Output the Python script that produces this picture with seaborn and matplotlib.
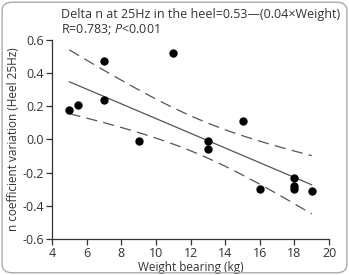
import matplotlib
matplotlib.use("Agg")
import matplotlib.pyplot as plt
from matplotlib.patches import FancyBboxPatch
import numpy as np
import pandas as pd
import seaborn as sns

# data
weight = [5, 5.5, 7, 7, 9, 11, 13, 13, 15, 16, 18, 18, 18, 19]
delta_n = [0.18, 0.21, 0.47, 0.24, -0.01, 0.52, -0.01, -0.06, 0.11, -0.30, -0.23, -0.28, -0.30, -0.31]
x_ticks = [4, 6, 8, 10, 12, 14, 16, 18, 20]
y_ticks = [-0.6, -0.4, -0.2, 0.0, 0.2, 0.4, 0.6]
T_CRIT = 2.179  # t(0.975, df=12)

df = pd.DataFrame({"weight": weight, "delta_n": delta_n})

sns.set_theme(style="ticks")
plt.rcParams["font.family"] = ["Open Sans", "DejaVu Sans"]
plt.rcParams["axes.unicode_minus"] = False
plt.rcParams["mathtext.fontset"] = "custom"
plt.rcParams["mathtext.it"] = "Open Sans:italic"
plt.rcParams["mathtext.rm"] = "Open Sans"

fig = plt.figure(figsize=(3.49, 2.75), dpi=100)
ax = fig.add_axes([0.149, 0.131, 0.794, 0.724])

# regression line + 95% confidence band of the mean
x = df["weight"].to_numpy(float)
y = df["delta_n"].to_numpy(float)
slope, intercept = np.polyfit(x, y, 1)
n = len(x)
resid = y - (intercept + slope * x)
s = np.sqrt(np.sum(resid ** 2) / (n - 2))
grid = np.linspace(x.min(), x.max(), 100)
fit = intercept + slope * grid
se = s * np.sqrt(1 / n + (grid - x.mean()) ** 2 / np.sum((x - x.mean()) ** 2))

ax.plot(grid, fit, color="#555555", lw=0.9)
ax.plot(grid, fit + T_CRIT * se, color="#555555", lw=0.9, dashes=(9, 5))
ax.plot(grid, fit - T_CRIT * se, color="#555555", lw=0.9, dashes=(9, 5))

sns.scatterplot(data=df, x="weight", y="delta_n", ax=ax, color="black",
                s=36, edgecolor="black", linewidth=0, zorder=3)

ax.set_xlim(4, 20)
ax.set_ylim(-0.6, 0.6)
ax.set_xticks(x_ticks)
ax.set_yticks(y_ticks)
ax.set_yticklabels([f"{v:.1f}" for v in y_ticks])
ax.set_xlabel("Weight bearing (kg)", fontsize=8.5, labelpad=1, color="#333333")
ax.set_ylabel("n coefficient variation (Heel 25Hz)", fontsize=8.5, labelpad=2, color="#333333")
ax.tick_params(labelsize=9, length=4, width=0.9, colors="#333333", pad=1.5)
for side in ["left", "bottom"]:
    ax.spines[side].set_linewidth(0.9)
    ax.spines[side].set_color("#333333")
sns.despine(ax=ax)

fig.text(0.176, 0.947, "Delta n at 25Hz in the heel=0.53\u2014(0.04\u00d7Weight)",
         fontsize=9.0, color="#333333", va="center")
fig.text(0.176, 0.893, r"R=0.783; $\it{P}$<0.001",
         fontsize=9.0, color="#333333", va="center")

border = FancyBboxPatch((0.006, 0.008), 0.988, 0.984, boxstyle="round,pad=0,rounding_size=0.03",
                        transform=fig.transFigure, fill=False, edgecolor="#aaaaaa", lw=1)
fig.patches.append(border)

fig.savefig("out.png", dpi=100)
